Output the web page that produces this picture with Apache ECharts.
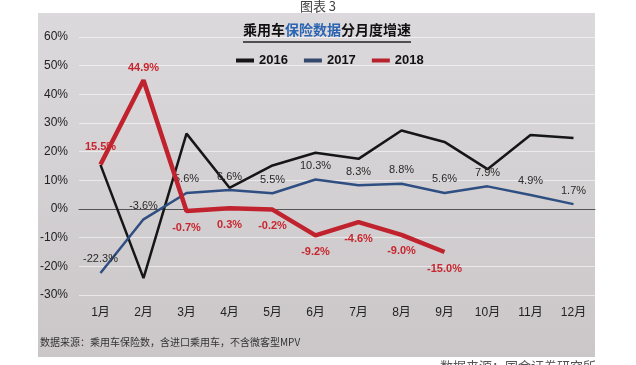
<!DOCTYPE html>
<html><head><meta charset="utf-8">
<script src="https://cdn.jsdelivr.net/npm/echarts@6/dist/echarts.min.js"></script>
<style>html,body{margin:0;padding:0;background:#fff;}#c{width:636px;height:365px;}</style>
</head><body><div id="c"></div>
<script>
const months = ['1月','2月','3月','4月','5月','6月','7月','8月','9月','10月','11月','12月'];
const yTicks = [-30,-20,-10,0,10,20,30,40,50,60];
const s2016 = [15.4,-24.1,26.3,7.4,15.2,19.6,17.5,27.4,23.4,13.9,25.8,24.8];
const s2017 = [-22.3,-3.6,5.6,6.6,5.5,10.3,8.3,8.8,5.6,7.9,4.9,1.7];
const s2018 = [15.5,44.9,-0.7,0.3,-0.2,-9.2,-4.6,-9.0,-15.0];

const chart = echarts.init(document.getElementById('c'));
const F = '"Liberation Sans", Arial, "Noto Sans CJK SC", sans-serif';
const pct = p => Number(p.value).toFixed(1) + '%';
const d18 = s2018.map((v,i)=> i===0 ? {value:v,label:{position:'top',distance:12}} : i===1 ? {value:v,label:{position:'top',distance:7}} : {value:v});
chart.setOption({
  animation:false,
  textStyle:{fontFamily:F},
  graphic:[
    {type:'rect',z:-10,shape:{x:38,y:13,width:557,height:344},
     style:{fill:{type:'linear',x:0,y:0,x2:0,y2:1,colorStops:[{offset:0,color:'#dcd9dc'},{offset:1,color:'#cbc7c9'}]}}},
    {type:'text',left:'center',top:0,style:{text:'图表 3',font:'13px "Noto Sans CJK SC", sans-serif',fill:'#444'}},
    {type:'text',x:243,y:23,style:{rich:{a:{fontSize:14,fontWeight:'bold',fill:'#111',fontFamily:'"Noto Sans CJK SC"'},b:{fontSize:14,fontWeight:'bold',fill:'#2b64b0',fontFamily:'"Noto Sans CJK SC"'}},text:'{a|乘用车}{b|保险数据}{a|分月度增速}'}},
    {type:'line',shape:{x1:243,y1:42,x2:411,y2:42},style:{stroke:'#222',lineWidth:1.5}},
    {type:'text',x:40,y:337,style:{text:'数据来源：乘用车保险数，含进口乘用车，不含微客型MPV',font:'10px "Noto Sans CJK SC", sans-serif',fill:'#333'}},
    {type:'text',x:440,y:360,style:{text:'数据来源：国金证券研究所',font:'13px "Noto Sans CJK SC", sans-serif',fill:'#555'}}
  ],
  legend:{left:231,top:49,itemWidth:18,itemHeight:4,itemGap:16,icon:'rect',
    textStyle:{fontSize:13,fontWeight:'bold',color:'#111'},
    data:['2016','2017','2018']},
  grid:{left:79,right:41,top:37,bottom:70},
  xAxis:{type:'category',data:months,boundaryGap:true,
    axisLine:{show:true,onZero:true,lineStyle:{color:'#555',width:1}},axisTick:{show:false},
    axisLabel:{fontSize:12,color:'#222',margin:12}},
  yAxis:{type:'value',min:-30,max:60,interval:10,
    axisLabel:{formatter:'{value}%',fontSize:12,color:'#222',margin:11},
    axisLine:{show:false},axisTick:{show:false},
    splitLine:{lineStyle:{color:'rgba(255,255,255,0.55)',width:1}}},
  series:[
    {name:'2016',type:'line',data:s2016,symbol:'none',color:'#161616',lineStyle:{width:2.5,color:'#161616'}},
    {name:'2017',type:'line',data:s2017,symbol:'circle',symbolSize:0.01,showSymbol:true,color:'#34496d',lineStyle:{width:2.5,color:'#2f4f82'},
      label:{show:true,position:'top',distance:8,formatter:pct,fontSize:11,color:'#2a2a2a'}},
    {name:'2018',type:'line',data:d18,symbol:'circle',symbolSize:0.01,showSymbol:true,color:'#b8222c',lineStyle:{width:4.5,color:'#c0232d'},z:5,
      label:{show:true,position:'bottom',distance:11,formatter:pct,fontSize:11,fontWeight:'bold',color:'#c8262e'}}
  ]
});
</script></body></html>
